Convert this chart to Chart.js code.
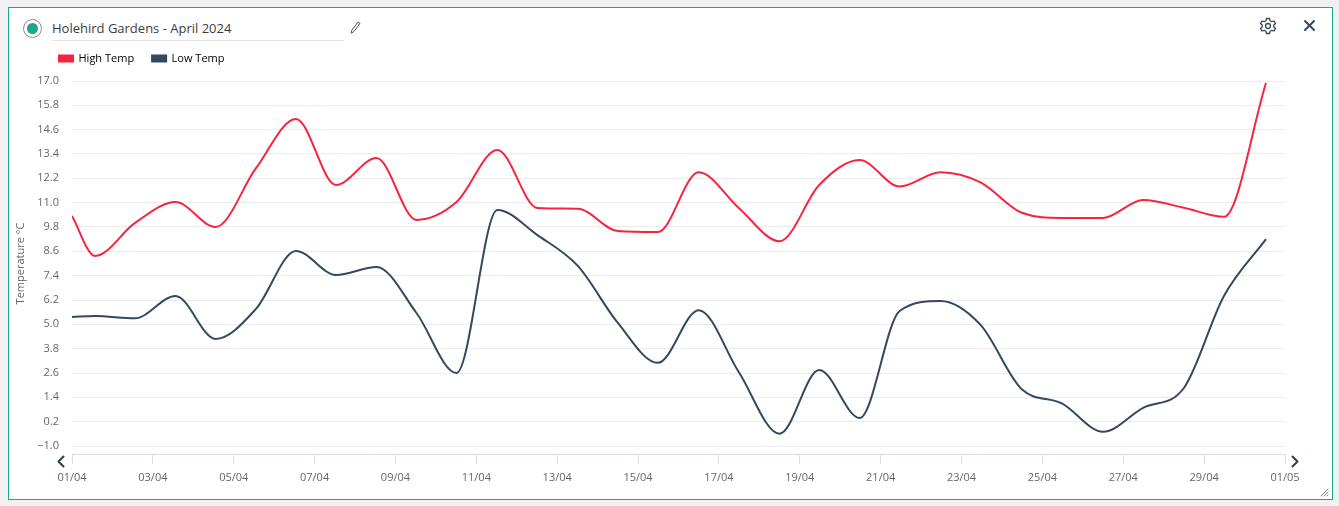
<!DOCTYPE html>
<html>
<head>
<meta charset="utf-8">
<title>Holehird Gardens - April 2024</title>
<script src="https://cdn.jsdelivr.net/npm/chart.js@4"></script>
<style>
  html, body { margin: 0; height: 100%; background: #f1f1f1; overflow: hidden; font-family: "Open Sans", sans-serif; }
  #card { position: absolute; left: 8px; top: 7px; width: 1323px; height: 491px; background: #fff; border: 1px solid #17a98a; }
  #title { position: absolute; left: 52px; top: 19px; width: 292px; height: 21px; line-height: 19px; font-size: 13px; font-weight: 500; color: #3c3c3c; border-bottom: 1px solid #e3e3e3; }
  #radio { position: absolute; left: 23px; top: 19px; width: 17px; height: 17px; border: 1px solid #8a8a8a; border-radius: 50%; background: #fff; }
  #radio::after { content: ""; position: absolute; left: 3px; top: 3px; width: 11px; height: 11px; border-radius: 50%; background: #17a98a; }
  svg.icon { position: absolute; fill: none; stroke-linecap: round; stroke-linejoin: round; }
  #chart { position: absolute; left: 10px; top: 42px; }
</style>
</head>
<body>
<div id="card"></div>
<div id="radio"></div>
<div id="title">Holehird Gardens - April 2024</div>
<canvas id="chart" width="1320" height="450" style="width:1320px;height:450px"></canvas>

<!-- pencil -->
<svg class="icon" style="left:349px;top:20px" width="13" height="15" viewBox="0 0 13 15" stroke="#555" stroke-width="1">
  <path d="M3 10 L9 2 L11 3.5 L5 11.5 L2.5 13 Z"/>
</svg>
<!-- gear -->
<svg class="icon" style="left:1259px;top:17px" width="18" height="18" viewBox="0 0 18 18" stroke="#3a4656" stroke-width="1.3">
  <circle cx="9" cy="9" r="2.5"/>
  <path d="M7.5 1.5 h3 l.5 2.2 1.8 1 2.2-.7 1.5 2.6-1.7 1.5 v1.8 l1.7 1.5-1.5 2.6-2.2-.7-1.8 1-.5 2.2 h-3 l-.5-2.2-1.8-1-2.2.7-1.5-2.6 1.7-1.5 v-1.8 l-1.7-1.5 1.5-2.6 2.2.7 1.8-1 z"/>
</svg>
<!-- close -->
<svg class="icon" style="left:1303px;top:19px" width="13" height="13" viewBox="0 0 13 13" stroke="#34495e" stroke-width="2">
  <path d="M2 2 L11 11 M11 2 L2 11"/>
</svg>
<!-- pager arrows -->
<svg class="icon" style="left:56px;top:455px" width="10" height="13" viewBox="0 0 10 13" stroke="#2c3e50" stroke-width="2">
  <path d="M7.5 1.5 L2.5 6.5 L7.5 11.5"/>
</svg>
<svg class="icon" style="left:1290px;top:455px" width="10" height="13" viewBox="0 0 10 13" stroke="#2c3e50" stroke-width="2">
  <path d="M2.5 1.5 L7.5 6.5 L2.5 11.5"/>
</svg>
<!-- resize handle -->
<svg class="icon" style="left:1320px;top:488px" width="9" height="9" viewBox="0 0 9 9" stroke="#777" stroke-width="1">
  <path d="M1 8 L8 1 M4 8 L8 4 M7 8 L8 7"/>
</svg>

<script>
const seriesNames = ["High Temp", "Low Temp"];
const seriesColors = ["#f5253e", "#34495e"];

// days since 01/04 for each reading
const dayOffsets = [0, 0.57, 1.56, 2.56, 3.55, 4.55, 5.54, 6.53, 7.53, 8.52, 9.51, 10.52, 11.51, 12.51, 13.5, 14.49, 15.5, 16.49, 17.5, 18.48, 19.48, 20.47, 21.48, 22.47, 23.49, 24.48, 25.5, 26.49, 27.5, 28.49, 29.53];

const highTemps = [10.34, 8.37, 10.0, 11.03, 9.8, 12.7, 15.13, 11.87, 13.2, 10.15, 11.03, 13.6, 10.74, 10.7, 9.6, 9.55, 12.5, 10.74, 9.1, 11.87, 13.1, 11.8, 12.5, 12.0, 10.5, 10.25, 10.25, 11.13, 10.75, 10.3, 16.9];
const lowTemps = [5.36, 5.41, 5.3, 6.4, 4.28, 5.76, 8.62, 7.43, 7.83, 5.56, 2.6, 10.64, 9.4, 7.88, 5.07, 3.1, 5.7, 2.65, -0.4, 2.75, 0.38, 5.66, 6.15, 4.97, 1.8, 1.1, -0.3, 0.88, 1.86, 6.4, 9.2];

const yTicks = [-1, 0.2, 1.4, 2.6, 3.8, 5, 6.2, 7.4, 8.6, 9.8, 11, 12.2, 13.4, 14.6, 15.8, 17];
const xTickLabels = ["01/04", "03/04", "05/04", "07/04", "09/04", "11/04", "13/04", "15/04", "17/04", "19/04", "21/04", "23/04", "25/04", "27/04", "29/04", "01/05"];

function toPoints(values) {
  return values.map((v, i) => ({ x: dayOffsets[i], y: v }));
}

function makeDataset(i, values) {
  return {
    label: seriesNames[i],
    data: toPoints(values),
    borderColor: seriesColors[i],
    backgroundColor: seriesColors[i],
    borderWidth: 2,
    pointRadius: 0,
    fill: false,
    cubicInterpolationMode: "monotone"
  };
}

// moves the legend to the right of the axis title
const legendShift = {
  id: "legendShift",
  afterLayout(chart) {
    chart.legend.left = 31;
    chart.legend.top = -7;
  }
};

new Chart(document.getElementById("chart").getContext("2d"), {
  type: "line",
  plugins: [legendShift],
  data: { datasets: [makeDataset(0, highTemps), makeDataset(1, lowTemps)] },
  options: {
    responsive: false,
    animation: false,
    layout: { padding: { top: 0, right: 45, bottom: 46, left: 0 } },
    plugins: {
      title: { display: false },
      tooltip: { enabled: false },
      legend: {
        align: "start",
        labels: {
          boxWidth: 14,
          boxHeight: 6,
          padding: 18,
          color: "#000",
          font: { family: "Open Sans", size: 11, weight: 500 }
        }
      }
    },
    scales: {
      x: {
        type: "linear",
        min: 0,
        max: 30,
        // axis rail sits a little below the -1.0 grid line
        position: { y: -1.44 },
        afterBuildTicks(axis) {
          axis.ticks = xTickLabels.map((_, i) => ({ value: i * 2 }));
        },
        ticks: {
          autoSkip: false,
          maxRotation: 0,
          padding: 7,
          color: "#666",
          font: { family: "Open Sans", size: 11 },
          callback: (value) => xTickLabels[value / 2]
        },
        grid: { drawOnChartArea: false, tickLength: 9, color: "#d9deea" },
        border: { display: true, color: "#d9deea" }
      },
      y: {
        min: -1,
        max: 17,
        afterBuildTicks(axis) {
          axis.ticks = yTicks.map(v => ({ value: v }));
        },
        afterFit(axis) { axis.width = 62; },
        title: {
          display: true,
          text: "Temperature °C",
          color: "#666",
          padding: { top: 4, bottom: 0 },
          font: { family: "Open Sans", size: 11 }
        },
        ticks: {
          padding: 13,
          color: "#666",
          font: { family: "Open Sans", size: 11 },
          callback: (value) => value.toFixed(1).replace("-", "−")
        },
        grid: { color: "#ececec", drawTicks: false },
        border: { display: false }
      }
    }
  },
});
</script>
</body>
</html>
